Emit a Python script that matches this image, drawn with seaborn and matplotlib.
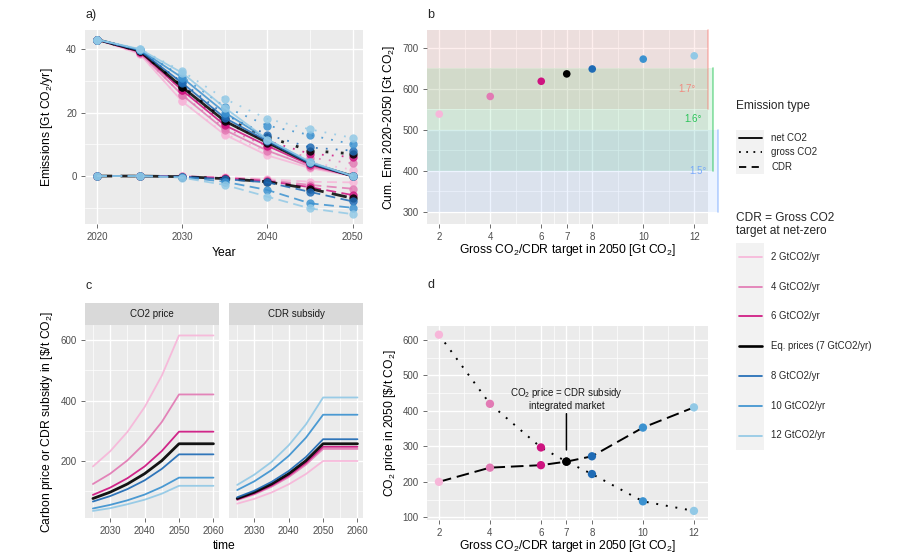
import numpy as np
import pandas as pd
import matplotlib
matplotlib.use("Agg")
import matplotlib.pyplot as plt
import seaborn as sns
from matplotlib.patches import Rectangle
from matplotlib.lines import Line2D

# ---------------- data ----------------
scenarios = ["2 GtCO2/yr", "4 GtCO2/yr", "6 GtCO2/yr", "Eq. prices (7 GtCO2/yr)",
             "8 GtCO2/yr", "10 GtCO2/yr", "12 GtCO2/yr"]
targets = [2, 4, 6, 7, 8, 10, 12]
colors = ["#F7B6D9", "#E27AB4", "#CE1480", "#000000", "#1F6BB5", "#3C92D0", "#92C9E6"]

years_a = [2020, 2025, 2030, 2035, 2040, 2045, 2050]
net_co2 = [
    [43, 38.5, 23.5, 13.0, 6.5, 2.5, 0],
    [43, 38.9, 25.5, 14.5, 8.0, 3.0, 0],
    [43, 39.2, 27.0, 16.0, 9.5, 3.5, 0],
    [43, 39.4, 28.0, 17.3, 10.5, 4.0, 0],
    [43, 39.6, 29.3, 18.3, 11.0, 4.0, 0],
    [43, 39.8, 31.0, 20.0, 11.5, 4.3, 0],
    [43, 40.0, 32.5, 21.5, 11.5, 4.5, 0],
]
gross_co2 = [
    [43, 38.5, 23.6, 13.3, 7.5, 4.3, 2],
    [43, 38.9, 25.6, 15.0, 9.3, 5.8, 4],
    [43, 39.2, 27.2, 16.7, 11.1, 7.0, 6],
    [43, 39.4, 28.2, 18.1, 12.3, 8.0, 7],
    [43, 39.6, 29.5, 19.3, 13.0, 9.0, 8],
    [43, 39.8, 31.3, 21.8, 15.9, 12.9, 10],
    [43, 40.0, 33.0, 24.3, 18.0, 14.7, 12],
]
cdr = [
    [0, 0, -0.1, -0.3, -1.0, -1.8, -2],
    [0, 0, -0.1, -0.5, -1.3, -2.8, -4],
    [0, 0, -0.2, -0.7, -1.6, -3.5, -6],
    [0, 0, -0.2, -0.8, -1.8, -4.0, -7],
    [0, 0, -0.2, -1.0, -2.0, -5.0, -8],
    [0, 0, -0.3, -1.8, -4.4, -8.6, -10],
    [0, 0, -0.5, -2.8, -6.5, -10.2, -12],
]

years_c = [2025, 2030, 2035, 2040, 2045, 2050, 2055, 2060]
co2_price = [
    [182, 232, 296, 378, 482, 615, 615, 615],
    [124, 158, 202, 258, 329, 420, 420, 420],
    [88, 112, 143, 182, 233, 297, 297, 297],
    [76, 97, 124, 158, 201, 257, 257, 257],
    [66, 84, 107, 136, 174, 222, 222, 222],
    [43, 55, 70, 89, 114, 145, 145, 145],
    [35, 44, 57, 72, 92, 118, 118, 118],
]
cdr_subsidy = [
    [59, 75, 96, 123, 157, 200, 200, 200],
    [71, 90, 115, 147, 188, 240, 240, 240],
    [73, 93, 119, 152, 194, 247, 247, 247],
    [76, 97, 124, 158, 201, 257, 257, 257],
    [80, 102, 131, 167, 213, 272, 272, 272],
    [104, 133, 170, 217, 277, 353, 353, 353],
    [121, 155, 197, 252, 321, 410, 410, 410],
]

cum_emi = [538, 581, 618, 636, 648, 672, 680]
price_2050 = [615, 420, 297, 257, 222, 145, 118]
subsidy_2050 = [200, 240, 247, 257, 272, 353, 410]

band_labels = ["1.7°", "1.6°", "1.5°"]
band_low = [550, 400, 300]
band_high = [750, 650, 500]
band_colors = ["#F8766D", "#00BA38", "#619CFF"]

emission_types = ["net CO2", "gross CO2", "CDR"]

# ---------------- style ----------------
sns.set_theme(style="darkgrid", rc={
    "axes.facecolor": "#EBEBEB", "grid.color": "white",
    "xtick.bottom": True, "ytick.left": True,
})
plt.rcParams["font.family"] = ["Liberation Sans", "DejaVu Sans"]
plt.rcParams["mathtext.fontset"] = "custom"
plt.rcParams["mathtext.rm"] = "Liberation Sans"
plt.rcParams["mathtext.it"] = "Liberation Sans:italic"
plt.rcParams["mathtext.bf"] = "Liberation Sans:bold"

W, H = 919, 557
fig = plt.figure(figsize=(W / 100, H / 100), dpi=100)
fig.patch.set_facecolor("white")

def px_axes(x0, y0, x1, y1):
    return fig.add_axes([x0 / W, 1 - y1 / H, (x1 - x0) / W, (y1 - y0) / H])

pal = dict(zip(scenarios, colors))
lw_map = {s: (2.0 if t == 7 else 1.3) for s, t in zip(scenarios, targets)}
TICK_COL = "#4D4D4D"

def style_axes(ax, xmaj, xmin, ymaj, ymin, xlim, ylim):
    ax.set_xlim(*xlim)
    ax.set_ylim(*ylim)
    ax.set_xticks(xmaj)
    ax.set_xticks(xmin, minor=True)
    ax.set_yticks(ymaj)
    ax.set_yticks(ymin, minor=True)
    ax.grid(which="major", color="white", lw=1.0)
    ax.grid(which="minor", color="white", lw=0.5)
    ax.tick_params(which="major", length=2.75, width=0.5, color="#333333",
                   labelcolor=TICK_COL, labelsize=7, pad=3)
    ax.tick_params(which="minor", length=0)
    for sp in ax.spines.values():
        sp.set_visible(False)
    ax.set_axisbelow(True)

def set_labels(ax, box, xlabel, ylabel, xlab_y, ylab_x, xlab_x=None):
    x0, y0, x1, y1 = box
    ax.set_xlabel(xlabel, fontsize=8.7, va="center", color="black")
    ax.set_ylabel(ylabel, fontsize=8.7, va="center", color="black")
    fx = 0.5 if xlab_x is None else (xlab_x - x0) / (x1 - x0)
    ax.xaxis.set_label_coords(fx, (y1 - xlab_y) / (y1 - y0))
    ax.yaxis.set_label_coords((ylab_x - x0) / (x1 - x0), 0.5)

# ---------------- panel a ----------------
box_a = (85, 30, 363, 224)
ax_a = px_axes(*box_a)
rows = []
for s, n, g, c in zip(scenarios, net_co2, gross_co2, cdr):
    for i, y in enumerate(years_a):
        rows.append((s, y, "net CO2", n[i]))
        rows.append((s, y, "gross CO2", g[i]))
        rows.append((s, y, "CDR", c[i]))
df_a = pd.DataFrame(rows, columns=["scenario", "year", "type", "value"])
sns.lineplot(data=df_a, x="year", y="value", hue="scenario", hue_order=scenarios,
             style="type", style_order=emission_types,
             size="scenario", sizes=lw_map, size_order=scenarios,
             dashes={"net CO2": "", "gross CO2": (1, 4.5), "CDR": (5.5, 3)},
             markers={"net CO2": "o", "gross CO2": "o", "CDR": "o"},
             markersize=6, markeredgewidth=0, alpha=0.85,
             palette=pal, legend=False, ax=ax_a, estimator=None)
style_axes(ax_a, [2020, 2030, 2040, 2050], [2025, 2035, 2045], [0, 20, 40], [-10, 10, 30],
           (2018.6, 2051.2), (-15.1, 46))
set_labels(ax_a, box_a, "Year", r"Emissions [Gt CO$_\mathrm{2}$/yr]", 253, 47)

# ---------------- panel b ----------------
box_b = (427, 30, 708, 224)
ax_b = px_axes(*box_b)
xlim_bd = (1.52, 12.54)
ylim_b = (270, 743)
style_axes(ax_b, targets, [3, 5, 6.5, 7.5, 9, 11], [300, 400, 500, 600, 700],
           [350, 450, 550, 650], xlim_bd, ylim_b)
band_right = [12.54, 12.73, 12.93]
band_text_x = [11.71, 11.95, 12.15]
for lab, lo, hi, col, xr, tx in zip(band_labels, band_low, band_high, band_colors,
                                    band_right, band_text_x):
    top = min(hi, ylim_b[1])
    ax_b.add_patch(Rectangle((xlim_bd[0], lo), xr - xlim_bd[0], top - lo,
                             facecolor=col, alpha=0.11, edgecolor="none",
                             clip_on=False, zorder=1))
    ax_b.plot([xr, xr], [lo, top], color=col, alpha=0.45, lw=1.2, clip_on=False, zorder=2)
    ax_b.text(tx, (lo + hi) / 2 if hi <= ylim_b[1] else 600, lab, color=col, alpha=0.8,
              fontsize=7, ha="center", va="center", zorder=3)
sns.scatterplot(x=targets, y=cum_emi, hue=scenarios, hue_order=scenarios, palette=pal,
                s=30, linewidth=0, legend=False, ax=ax_b, zorder=4)
set_labels(ax_b, box_b, r"Gross CO$_\mathrm{2}$/CDR target in 2050 [Gt CO$_\mathrm{2}$]",
           r"Cum. Emi 2020-2050 [Gt CO$_\mathrm{2}$]", 250, 389)

# ---------------- panel c ----------------
box_c1 = (85, 325, 219.3, 518.3)
box_c2 = (229.3, 325, 363.3, 518.3)
for box, data, title, first in [(box_c1, co2_price, "CO2 price", True),
                                (box_c2, cdr_subsidy, "CDR subsidy", False)]:
    ax = px_axes(*box)
    rows = []
    for s, vals in zip(scenarios, data):
        for y, v in zip(years_c, vals):
            rows.append((s, y, v))
    df_c = pd.DataFrame(rows, columns=["scenario", "time", "value"])
    sns.lineplot(data=df_c, x="time", y="value", hue="scenario", hue_order=scenarios,
                 size="scenario", sizes=lw_map, size_order=scenarios,
                 palette=pal, legend=False, ax=ax, alpha=0.92, estimator=None)
    style_axes(ax, [2030, 2040, 2050, 2060], [2025, 2035, 2045, 2055],
               [200, 400, 600], [100, 300, 500], (2022.7, 2061.7), (10.6, 649.6))
    if first:
        set_labels(ax, box, "time",
                   r"Carbon price or CDR subsidy in [\$/t CO$_\mathrm{2}$]", 546, 47, xlab_x=224)
    else:
        ax.set_xlabel("")
        ax.set_ylabel("")
        ax.tick_params(axis="y", which="both", left=False, labelleft=False)
    sx = px_axes(box[0], 302.7, box[2], 325)
    sx.set_facecolor("#D9D9D9")
    sx.set_xticks([])
    sx.set_yticks([])
    sx.grid(False)
    for sp in sx.spines.values():
        sp.set_visible(False)
    sx.text(0.5, 0.5, title, ha="center", va="center", fontsize=7, color="#1A1A1A",
            transform=sx.transAxes)

# ---------------- panel d ----------------
box_d = (426.7, 326, 707.7, 519.7)
ax_d = px_axes(*box_d)
style_axes(ax_d, targets, [3, 5, 6.5, 7.5, 9, 11], [100, 200, 300, 400, 500, 600],
           [150, 250, 350, 450, 550], xlim_bd, (93.2, 639.5))
sns.lineplot(x=targets, y=price_2050, color="black", lw=1.4, linestyle=(0, (1, 4)),
             ax=ax_d, zorder=2)
sns.lineplot(x=targets, y=subsidy_2050, color="black", lw=1.4, linestyle=(0, (6.5, 3)),
             ax=ax_d, zorder=2)
sns.scatterplot(x=targets + targets, y=price_2050 + subsidy_2050,
                hue=scenarios + scenarios, hue_order=scenarios, palette=pal,
                s=36, linewidth=0, legend=False, ax=ax_d, zorder=3)
eq_x = targets[3]
ax_d.text(eq_x, 435, "CO$_\\mathrm{2}$ price = CDR subsidy\nintegrated market",
          ha="center", va="center", fontsize=7, color="#1A1A1A", linespacing=1.2)
ax_d.annotate("", xy=(eq_x, subsidy_2050[3] + 25), xytext=(eq_x, 400),
              arrowprops=dict(arrowstyle="-", lw=1.1, color="black"))
set_labels(ax_d, box_d, r"Gross CO$_\mathrm{2}$/CDR target in 2050 [Gt CO$_\mathrm{2}$]",
           r"CO$_\mathrm{2}$ price in 2050 [\$/t CO$_\mathrm{2}$]", 546.5, 390)

# ---------------- panel tags ----------------
for tag, x, y in [("a)", 85, 15), ("b", 427, 15), ("c", 85, 286), ("d", 427, 285)]:
    fig.text(x / W, 1 - y / H, tag, fontsize=9, ha="left", va="center")

# ---------------- legends ----------------
lg = fig.add_axes([0, 0, 1, 1])
lg.set_xlim(0, W)
lg.set_ylim(H, 0)
lg.axis("off")
lg.text(736, 106, "Emission type", fontsize=8.6, ha="left", va="center")
lg.add_patch(Rectangle((736, 130), 28.3, 44, facecolor="#F2F2F2", edgecolor="none"))
type_dash = {"net CO2": "-", "gross CO2": (0, (1, 3)), "CDR": (0, (4, 3))}
for i, t in enumerate(emission_types):
    yy = 137.7 + 14.6 * i
    lg.add_line(Line2D([739, 762], [yy, yy], color="black", lw=1.3, linestyle=type_dash[t]))
    lg.text(771, yy, t, fontsize=6.9, ha="left", va="center")
lg.text(736, 224.7, "CDR = Gross CO2\ntarget at net-zero", fontsize=8.6, ha="left",
        va="center", linespacing=1.05)
lg.add_patch(Rectangle((736, 242.7), 28.3, 207.3, facecolor="#F2F2F2", edgecolor="none"))
for i, (s, c) in enumerate(zip(scenarios, colors)):
    yy = 256.7 + 29.8 * i
    lg.add_line(Line2D([739, 762], [yy, yy], color=c, lw=lw_map[s] * 0.95))
    lg.text(771, yy, s, fontsize=6.9, ha="left", va="center")

fig.savefig("out.png", dpi=100)
